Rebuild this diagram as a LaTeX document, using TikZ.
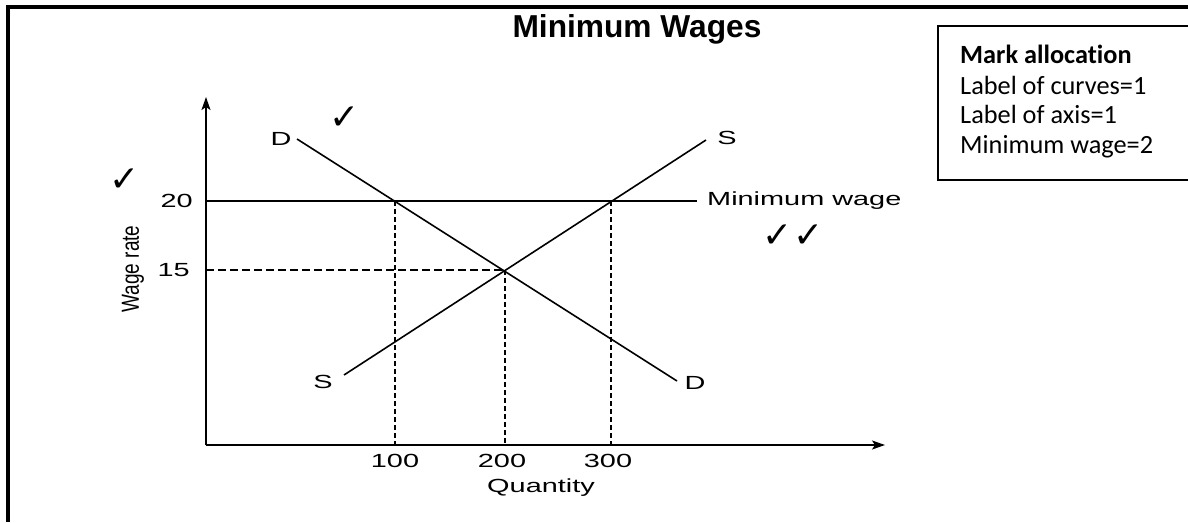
\documentclass[tikz,border=0pt]{standalone}
\usepackage{fontspec}
\setmainfont{Liberation Sans}
\newfontfamily\calibfont[Ligatures=NoCommon]{Carlito}
\newfontfamily\dejavufont{DejaVu Sans}
\usetikzlibrary{arrows.meta}
\newcommand{\wide}[1]{\scalebox{1.52}[1]{#1}}
\begin{document}
\begin{tikzpicture}[x=1pt,y=-1pt,
  axisline/.style={line width=1.8pt,-{Stealth[length=13pt,width=9pt,inset=3pt]}},
  curveline/.style={line width=1.6pt},
  minline/.style={line width=2.8pt},
  vguide/.style={line width=1.7pt,dash pattern=on 5pt off 3pt},
  hguide/.style={line width=1.4pt,dash pattern=on 8pt off 4pt},
  lbl/.style={font=\fontsize{19}{22}\selectfont,inner sep=0pt},
  tick/.style={font=\dejavufont\bfseries\fontsize{36}{38}\selectfont,inner sep=0pt},
  boxtxt/.style={font=\calibfont\fontsize{26.3}{28}\selectfont,inner sep=0pt,anchor=base west}]
\useasboundingbox (0,0) rectangle (1188,522);
% frame
\draw[line width=4pt,line join=miter] (8,522) -- (8,7) -- (1188,7);
% title
\node[inner sep=0pt,anchor=base,font=\bfseries\fontsize{31.7}{34}\selectfont] (title) at (637,37) {Minimum Wages};
% mark allocation box
\draw[line width=1.6pt] (1188,26) -- (938,26) -- (938,180) -- (1188,180);
\node[boxtxt,font=\calibfont\bfseries\fontsize{26.3}{28}\selectfont] (m1) at (960,63) {Mark allocation};
\node[boxtxt] (m2) at (960,94) {Label of curves=1};
\node[boxtxt] (m3) at (960,123) {Label of axis=1};
\node[boxtxt] (m4) at (960,153) {Minimum wage=2};
% axes
\coordinate (O) at (206,445);
\coordinate (ytop) at (206,97);
\coordinate (xend) at (885,445);
\draw[axisline] (O) -- (ytop);
\draw[axisline] (O) -- (xend);
% key points
\coordinate (A) at (395,201);
\coordinate (E) at (505,270);
\coordinate (B) at (611,201);
\coordinate (y20) at (206,201);
\coordinate (y15) at (206,270);
\coordinate (x100) at (395,445);
\coordinate (x200) at (505,445);
\coordinate (x300) at (611,445);
\coordinate (mwend) at (697,201);
% guides
\draw[vguide] (A) -- (x100);
\draw[vguide] (E) -- (x200);
\draw[vguide] (B) -- (x300);
\draw[hguide] (y15) -- (E);
% curves
\coordinate (Dtop) at (297,139);
\coordinate (Dbot) at (677,381);
\coordinate (Sbot) at (344,375);
\coordinate (Stop) at (706,140);
\draw[curveline] (Dtop) -- (Dbot);
\draw[curveline] (Sbot) -- (Stop);
\draw[minline] (y20) -- (mwend);
% labels
\node[lbl] (lD1) at (281,139) {\wide{D}};
\node[lbl] (lD2) at (695,383) {\wide{D}};
\node[lbl] (lS1) at (323,382) {\wide{S}};
\node[lbl] (lS2) at (727,138) {\wide{S}};
\node[lbl,anchor=west] (lmw) at (707,201) {\wide{Minimum wage}};
\node[lbl,anchor=east] (l20) at (193,201) {\wide{20}};
\node[lbl,anchor=east] (l15) at (190,270) {\wide{15}};
\node[lbl] (l100) at (395,461) {\wide{100}};
\node[lbl] (l200) at (502,461) {\wide{200}};
\node[lbl] (l300) at (608,461) {\wide{300}};
\node[lbl] (lq) at (541,488) {\wide{Quantity}};
\node[lbl] (lw) at (133,269) {\scalebox{1.3}[1]{\rotatebox{90}{Wage rate}}};
% check marks
\node[tick] (c1) at (125,180) {✓};
\node[tick] (c2) at (345,118) {✓};
\node[tick] (c3) at (793,236) {✓✓};
\end{tikzpicture}
\end{document}
